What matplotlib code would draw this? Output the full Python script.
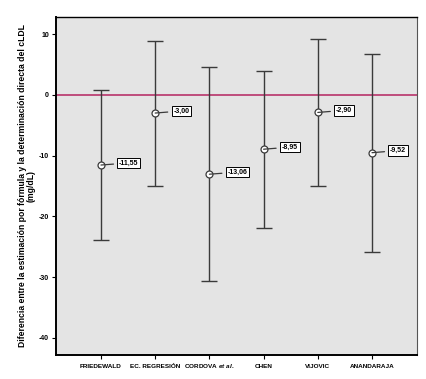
import numpy as np
import matplotlib.pyplot as plt

plt.rcParams["font.family"] = ["Liberation Sans", "DejaVu Sans"]
plt.rcParams["mathtext.fontset"] = "custom"
plt.rcParams["mathtext.rm"] = "Liberation Sans:bold"
plt.rcParams["mathtext.it"] = "Liberation Sans:italic:bold"

metodos = ["FRIEDEWALD", "EC. REGRESIÓN", r"CORDOVA $\mathit{et\ al.}$",
           "CHEN", "VIJOVIC", "ANANDARAJA"]
medias = [-11.55, -3.00, -13.06, -8.95, -2.90, -9.52]
ic_sup = [0.8, 8.9, 4.6, 3.9, 9.1, 6.7]
ic_inf = [-23.9, -15.0, -30.7, -21.9, -15.0, -25.8]
etiquetas = ["-11,55", "-3,00", "-13,06", "-8,95", "-2,90", "-9,52"]
yticks = [10, 0, -10, -20, -30, -40]
yticklabels = ["10", "0", "-10", "-20", "-30", "-40"]

x = np.arange(1, len(metodos) + 1)
medias = np.array(medias)
err = [medias - np.array(ic_inf), np.array(ic_sup) - medias]

fig = plt.figure(figsize=(4.27, 3.79), dpi=100)
ax = fig.add_axes([56 / 427, 1 - 355 / 379, 361 / 427, 338 / 379])
ax.set_facecolor("#e4e4e4")

ax.axhline(0, color="#b8336a", lw=1.2, zorder=1)
ax.errorbar(x, medias, yerr=err, fmt="none", ecolor="#3a3a3a",
            elinewidth=1.0, capsize=6, capthick=1.0, zorder=2)
ax.plot(x, medias, "o", ms=5, mfc="white", mec="#3a3a3a", mew=0.9, zorder=3)

for xi, yi, t in zip(x, medias, etiquetas):
    ax.annotate(t, (xi, yi), xytext=(13, 1.5), textcoords="offset points",
                fontsize=5, fontweight="bold", va="center", ha="left",
                bbox=dict(boxstyle="square,pad=0.25", fc="white", ec="black", lw=0.7),
                arrowprops=dict(arrowstyle="-", color="#3a3a3a", lw=0.9,
                                shrinkA=2.5, shrinkB=0))

ax.set_xlim(0.17, 6.83)
ax.set_ylim(-42.8, 12.8)
ax.set_xticks(x)
ax.set_xticklabels(metodos, fontsize=4.6, fontweight="bold")
for lbl in ax.get_xticklabels():
    lbl.set_verticalalignment("baseline")
ax.set_yticks(yticks)
ax.set_yticklabels(yticklabels, fontsize=5, fontweight="bold")
ax.tick_params(axis="y", length=3, width=0.8, pad=2)
ax.tick_params(axis="x", length=3, width=0.8, pad=6.5)

for s in ["left", "bottom"]:
    ax.spines[s].set_linewidth(1.4)
ax.spines["top"].set_linewidth(1.0)
ax.spines["right"].set_color("#555555")
ax.spines["right"].set_linewidth(0.8)

ax.set_ylabel("Diferencia entre la estimación por fórmula y la determinación directa del cLDL\n(mg/dL)",
              fontsize=6.2, fontweight="bold", labelpad=2, linespacing=1.0)

fig.savefig("out.png", dpi=100)
